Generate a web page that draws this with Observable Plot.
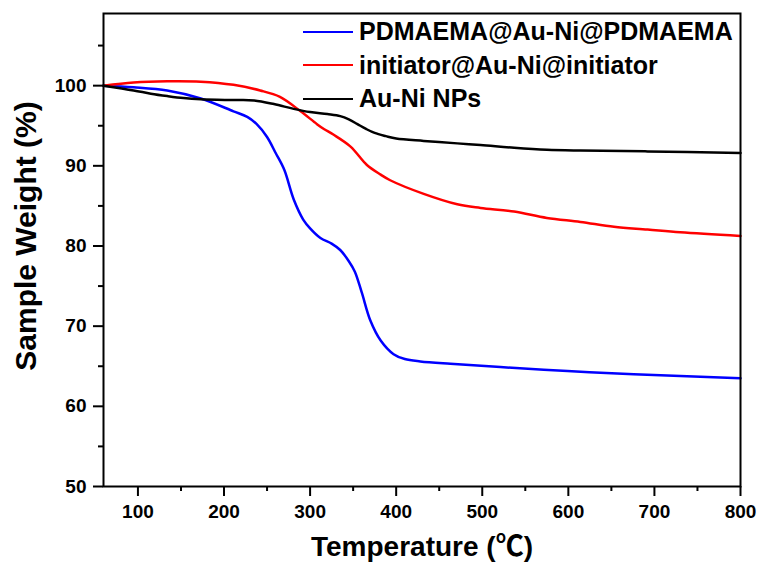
<!DOCTYPE html>
<html>
<head>
<meta charset="utf-8">
<script src="https://cdn.jsdelivr.net/npm/d3@7"></script>
<script src="https://cdn.jsdelivr.net/npm/@observablehq/plot@0.6"></script>
<style>
  html, body { margin: 0; padding: 0; background: #fff; }
  #wrap { position: relative; width: 761px; height: 562px; font-family: "Liberation Sans", Arial, "Noto Sans CJK SC", sans-serif; }
  #legend { position: absolute; left: 303px; top: 15px; font-weight: bold; font-size: 25px; color: #000; }
  #legend .row { display: flex; align-items: center; height: 33.5px; }
  #legend .sw { width: 50px; height: 0; border-top: 2px solid; margin-right: 6px; }
</style>
</head>
<body>
<div id="wrap"></div>
<script>
const seriesNames = ["PDMAEMA@Au-Ni@PDMAEMA", "initiator@Au-Ni@initiator", "Au-Ni NPs"];
const seriesColors = ["#0000ff", "#ff0000", "#000000"];

const tempA = [60, 95, 134, 173, 211, 227, 238, 250, 260, 270, 281, 292, 300, 312, 325, 335, 345, 352, 360, 370, 382, 397, 410, 428, 463, 521, 599, 676, 800];
const weightA = [100, 99.8, 99.4, 98.4, 96.8, 96.1, 95.2, 93.6, 91.6, 89.5, 85.8, 83.3, 82.2, 81.0, 80.3, 79.5, 78.1, 76.8, 74.2, 70.7, 68.2, 66.5, 65.9, 65.6, 65.3, 64.9, 64.4, 64.0, 63.5];

const tempB = [60, 95, 134, 173, 211, 242, 265, 289, 308, 316, 327, 347, 366, 382, 393, 432, 471, 498, 537, 575, 614, 653, 692, 730, 800];
const weightB = [100, 100.4, 100.55, 100.5, 100.1, 99.4, 98.6, 96.8, 95.2, 94.6, 93.9, 92.4, 90.1, 88.9, 88.2, 86.5, 85.2, 84.75, 84.3, 83.5, 83.0, 82.4, 82.05, 81.7, 81.25];

const tempC = [60, 95, 115, 134, 153, 173, 211, 235, 258, 281, 300, 320, 335, 345, 355, 365, 375, 388, 400, 432, 471, 498, 537, 575, 614, 692, 800];
const weightC = [100, 99.4, 99.0, 98.7, 98.45, 98.3, 98.2, 98.15, 97.7, 97.1, 96.7, 96.45, 96.2, 95.8, 95.2, 94.6, 94.1, 93.7, 93.4, 93.1, 92.8, 92.6, 92.25, 92.0, 91.9, 91.8, 91.6];

const xMajor = [100, 200, 300, 400, 500, 600, 700, 800];
const xMinor = [150, 250, 350, 450, 550, 650, 750];
const yMajor = [50, 60, 70, 80, 90, 100];
const yMinor = [55, 65, 75, 85, 95, 105];
const xTitle = "Temperature (℃)";
const yTitle = "Sample Weight (%)";

const temps = [tempA, tempB, tempC];
const weights = [weightA, weightB, weightC];
const rows = [];
seriesNames.forEach((s, i) => temps[i].forEach((t, j) => rows.push({series: s, t, w: weights[i][j]})));

const font = `"Liberation Sans", Arial, "Noto Sans CJK SC", sans-serif`;

const chart = Plot.plot({
  width: 761,
  height: 562,
  marginLeft: 103,
  marginRight: 21,
  marginTop: 13,
  marginBottom: 76,
  style: {fontFamily: font, fontWeight: "bold", color: "#000", background: "#fff"},
  x: {domain: [60, 800], label: null},
  y: {domain: [50, 109], label: null},
  color: {domain: seriesNames, range: seriesColors},
  marks: [
    Plot.line(rows, {x: "t", y: "w", z: "series", stroke: "series", strokeWidth: 2.5, curve: "catmull-rom"}),
    Plot.frame({stroke: "#000", strokeWidth: 2}),
    Plot.axisX({ticks: xMajor, tickSize: 10, tickPadding: 8, tickFormat: d3.format("d"), fontSize: 19, fontWeight: "bold", strokeWidth: 2, label: null}),
    Plot.axisX({ticks: xMinor, tickSize: 5, text: null, strokeWidth: 2, label: null}),
    Plot.axisY({ticks: yMajor, tickSize: 10, tickPadding: 7, tickFormat: d3.format("d"), fontSize: 19, fontWeight: "bold", strokeWidth: 2, label: null}),
    Plot.axisY({ticks: yMinor, tickSize: 5, text: null, strokeWidth: 2, label: null}),
    Plot.text([xTitle], {text: d => d, frameAnchor: "bottom", dy: 69, lineAnchor: "bottom", fontSize: 28, fontWeight: "bold"}),
    Plot.text([yTitle], {text: d => d, frameAnchor: "left", dx: -68, dy: -14, rotate: -90, lineAnchor: "bottom", textAnchor: "middle", fontSize: 30, fontWeight: "bold"})
  ]
});

const wrap = document.getElementById("wrap");
wrap.appendChild(chart);

const legend = document.createElement("div");
legend.id = "legend";
seriesNames.forEach((s, i) => {
  const row = document.createElement("div");
  row.className = "row";
  const sw = document.createElement("div");
  sw.className = "sw";
  sw.style.borderTopColor = seriesColors[i];
  const label = document.createElement("span");
  label.textContent = s;
  row.appendChild(sw);
  row.appendChild(label);
  legend.appendChild(row);
});
wrap.appendChild(legend);
</script>
</body>
</html>
